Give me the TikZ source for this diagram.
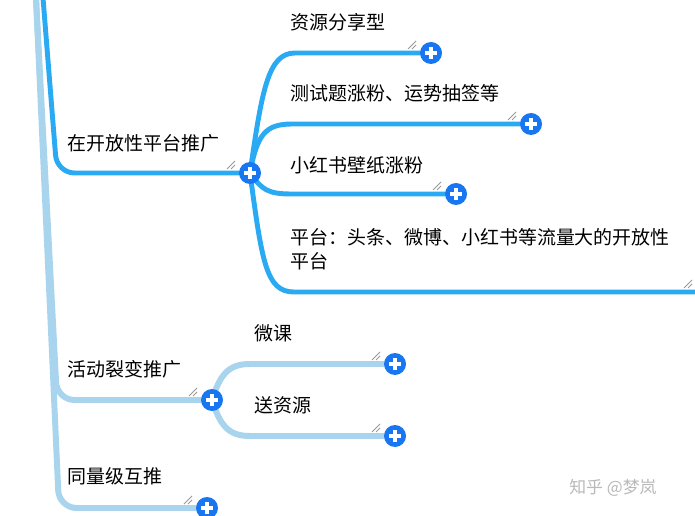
\documentclass[tikz,border=0pt]{standalone}
\usepackage{fontspec}
\newfontfamily\cjk{Noto Sans CJK SC}
\usetikzlibrary{backgrounds}
\definecolor{hotblue}{RGB}{42,170,242}
\definecolor{coolblue}{RGB}{168,212,238}
\definecolor{knobblue}{RGB}{24,118,240}
\tikzset{
  hotline/.style={draw=hotblue, line width=2.8pt, line cap=round},
  coolline/.style={draw=coolblue, line width=3.4pt, line cap=round},
  knob/.style={circle, fill=knobblue, minimum size=0.44cm, inner sep=0pt,
    path picture={\draw[white, line width=1.9pt]
      ([xshift=-0.12cm]path picture bounding box.center) -- ([xshift=0.12cm]path picture bounding box.center)
      ([yshift=-0.12cm]path picture bounding box.center) -- ([yshift=0.12cm]path picture bounding box.center);}},
  txt/.style={anchor=west, inner sep=0pt, font=\cjk\fontsize{10.8}{13.6}\selectfont},
  grip/.pic={\draw[gray!80, line width=0.5pt] (-4,-4) -- (4,4) (0,-4) -- (4,0);}
}

\begin{document}
\begin{tikzpicture}[x=0.02cm, y=0.02cm]
\useasboundingbox (0,0) rectangle (695,-516);
\clip (0,0) rectangle (695,-516);

\coordinate (tA) at (36,2);
\coordinate (tB) at (43,2);

% knobs
\node[knob] (nPlat) at (250,-173) {};
\node[knob] (nShare) at (431,-53) {};
\node[knob] (nTest) at (531,-124) {};
\node[knob] (nWall) at (456,-194) {};
\node[knob] (nBig) at (707,-292) {};
\node[knob] (nAct) at (212,-400) {};
\node[knob] (nCourse) at (395,-364) {};
\node[knob] (nGift) at (395,-436) {};
\node[knob] (nPeer) at (207,-508) {};

% texts
\node[txt] (lPlat) at (67,-143) {在开放性平台推广};
\node[txt] (lShare) at (290,-22) {资源分享型};
\node[txt] (lTest) at (290,-93) {测试题涨粉、运势抽签等};
\node[txt] (lWall) at (290,-165) {小红书壁纸涨粉};
\node[txt, anchor=north west, align=left] (lBig) at (290,-228) {平台：头条、微博、小红书等流量大的开放性\\平台};
\node[txt] (lAct) at (67,-369) {活动裂变推广};
\node[txt] (lCourse) at (254,-333) {微课};
\node[txt] (lGift) at (254,-405) {送资源};
\node[txt] (lPeer) at (67,-476) {同量级互推};
\node[txt, font=\cjk\fontsize{9.6}{11}\selectfont, text=gray!55] (mark) at (569,-488) {知乎 @梦岚};

\begin{scope}[on background layer]
\fill[white] (0,0) rectangle (695,-516);
\draw[coolline, rounded corners=10] (tA) -- (57,-400) -- (nAct);
\draw[coolline, rounded corners=10] (tA) -- (59,-508) -- (nPeer);
\draw[hotline, rounded corners=10] (tB) -- (57,-173) -- (nPlat);

\draw[hotline] (nPlat.center) .. controls (262,-90) and (268,-53) .. (295,-53) -- (nShare);
\draw[hotline] (nPlat.center) .. controls (257,-135) and (265,-124) .. (292,-124) -- (nTest);
\draw[hotline] (nPlat.center) .. controls (262,-190) and (268,-194) .. (292,-194) -- (nWall);
\draw[hotline] (nPlat.center) .. controls (262,-262) and (266,-292) .. (294,-292) -- (nBig);

\draw[coolline] (nAct.center) .. controls (220,-375) and (228,-364) .. (250,-364) -- (nCourse);
\draw[coolline] (nAct.center) .. controls (220,-425) and (228,-436) .. (250,-436) -- (nGift);
\end{scope}

\foreach \k in {nPlat, nShare, nTest, nWall, nBig, nAct, nCourse, nGift, nPeer}
  \path (\k) ++(-19,8) pic {grip};
\end{tikzpicture}
\end{document}
